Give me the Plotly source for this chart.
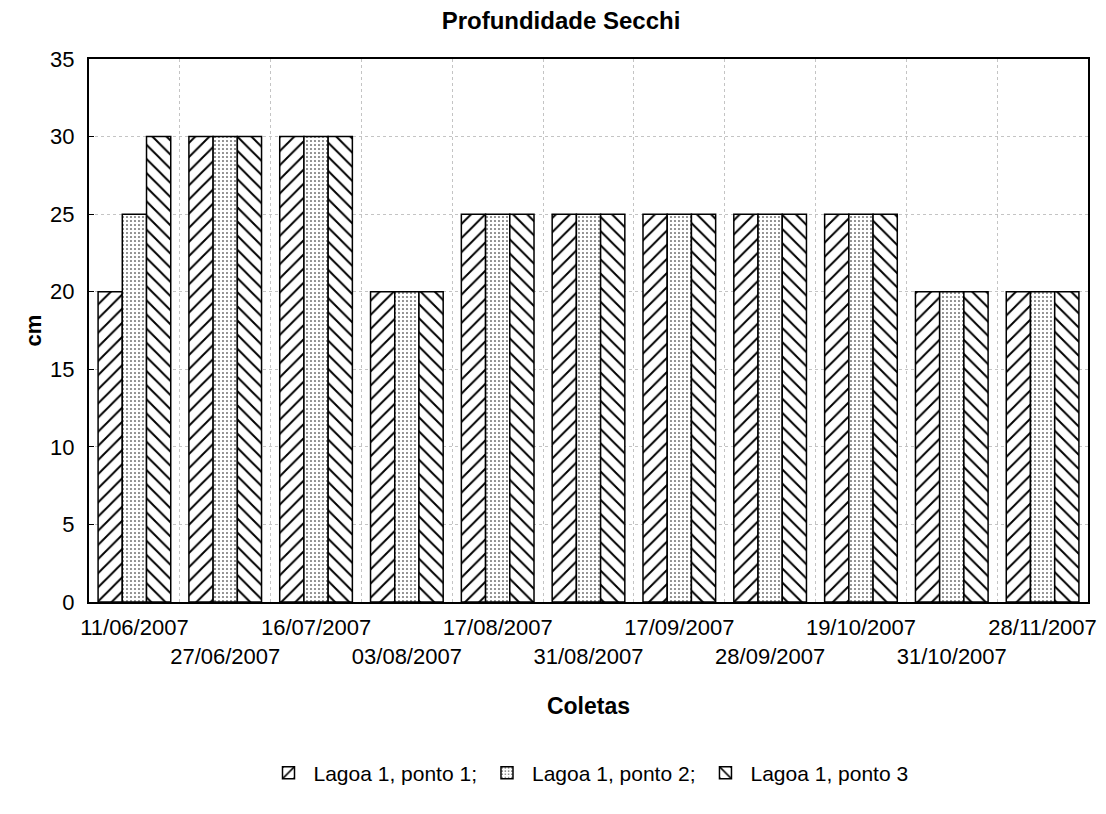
"""Profundidade Secchi – barras agrupadas com hachuras, Lagoa 1."""

import plotly.graph_objects as go

coletas = [
    "11/06/2007", "27/06/2007", "16/07/2007", "03/08/2007", "17/08/2007",
    "31/08/2007", "17/09/2007", "28/09/2007", "19/10/2007", "31/10/2007",
    "28/11/2007",
]
ponto_1 = [20, 30, 30, 20, 25, 25, 25, 25, 25, 20, 20]
ponto_2 = [25, 30, 30, 20, 25, 25, 25, 25, 25, 20, 20]
ponto_3 = [30, 30, 30, 20, 25, 25, 25, 25, 25, 20, 20]
nomes = ["Lagoa 1, ponto 1;", "Lagoa 1, ponto 2;", "Lagoa 1, ponto 3"]

# rótulos alternados em duas linhas, como no original
rotulos = [c if i % 2 == 0 else "<br>" + c for i, c in enumerate(coletas)]

FONT = "Liberation Sans, Arial, sans-serif"

fig = go.Figure()
for valores, nome, hachura, tam, solid in (
    (ponto_1, nomes[0], "/", 10, 0.2),
    (ponto_2, nomes[1], ".", 4, 0.12),
    (ponto_3, nomes[2], "\\", 10, 0.2),
):
    fig.add_trace(
        go.Bar(
            x=coletas,
            y=valores,
            name=nome,
            marker=dict(
                color="white",
                line=dict(color="black", width=1.5),
                pattern=dict(shape=hachura, fgcolor="black", bgcolor="white",
                             fgopacity=1, size=tam, solidity=solid),
            ),
        )
    )

fig.update_layout(
    width=1106,
    height=814,
    paper_bgcolor="white",
    plot_bgcolor="white",
    barmode="group",
    bargap=0.2,
    bargroupgap=0,
    margin=dict(l=81, r=26, t=51, b=220, autoexpand=False),
    font=dict(family=FONT, size=21, color="black"),
    title=dict(text="<b>Profundidade Secchi</b>", x=0.5, xanchor="center",
               y=0.985, yanchor="middle", font=dict(size=24)),
    legend=dict(orientation="h", x=0.5, xanchor="center", y=-0.315,
                yanchor="middle", font=dict(size=21), itemwidth=40,
                traceorder="normal"),
)
fig.update_xaxes(
    tickmode="array", tickvals=coletas, ticktext=rotulos, tickangle=0,
    tickson="boundaries", ticks="", showgrid=True, gridcolor="#c4c4c4",
    griddash="dot", gridwidth=1, automargin=False, ticklabelstandoff=5,
    showline=True, mirror=True, linecolor="black", linewidth=2,
    title=dict(text="<b>Coletas</b>", font=dict(size=23), standoff=30),
    tickfont=dict(size=22),
)
fig.update_yaxes(
    range=[0, 35], dtick=5, ticks="inside", ticklen=5, tickcolor="black",
    ticklabelstandoff=8,
    showgrid=True, gridcolor="#c4c4c4", griddash="dot", gridwidth=1,
    showline=True, mirror=True, linecolor="black", linewidth=2,
    zeroline=False, automargin=False,
    title=dict(text="<b>cm</b>", font=dict(size=22), standoff=2),
    tickfont=dict(size=22),
)

fig.write_html("out.html")
